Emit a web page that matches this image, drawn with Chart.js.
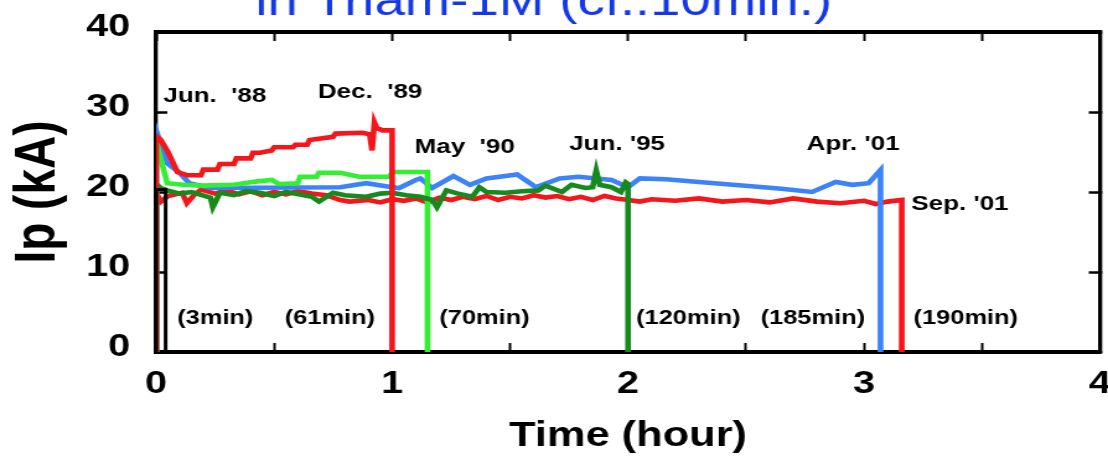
<!DOCTYPE html>
<html>
<head>
<meta charset="utf-8">
<script src="https://cdn.jsdelivr.net/npm/chart.js@4.4.1/dist/chart.umd.min.js"></script>
<style>
  html, body { margin: 0; padding: 0; background: #fff; overflow: hidden; }
  /* the source figure is stretched sideways, so the canvas is drawn narrow and widened by css */
  #ipChart { display: block; width: 1108px; height: 459px; }
</style>
</head>
<body>
<canvas id="ipChart" width="894" height="459" style="width:1108px;height:459px"></canvas>
<script>
// Jun. '88 (3 min)
const jun88Time = [0, 0, 0.04, 0.04];
const jun88Ip = [0, 20.3, 20.3, 0];

// Dec. '89 (61 min)
const dec89Time = [0, 0, 0.02, 0.05, 0.09, 0.13, 0.19, 0.2, 0.26, 0.27, 0.33, 0.34, 0.4, 0.41, 0.44, 0.49, 0.5, 0.58, 0.59, 0.64, 0.65, 0.75, 0.76, 0.875, 0.905, 0.915, 0.925, 0.935, 0.96, 1.0, 1.0];
const dec89Ip = [0, 27, 26.5, 25, 22.5, 22.1, 22.1, 22.8, 22.8, 23.5, 23.5, 24.2, 24.2, 24.9, 24.9, 25.2, 25.6, 25.6, 25.9, 25.9, 26.5, 26.9, 27.3, 27.4, 27.2, 25.2, 28.7, 28.0, 27.7, 27.7, 0];

// May '90 (70 min)
const may90Time = [0, 0, 0.047, 0.115, 0.2, 0.33, 0.42, 0.49, 0.52, 0.6, 0.61, 0.68, 0.69, 0.78, 0.86, 0.87, 0.99, 1.0, 1.05, 1.1, 1.15, 1.15];
const may90Ip = [0, 26.3, 21.1, 20.9, 20.8, 20.9, 21.3, 21.5, 21.0, 21.1, 21.9, 21.9, 22.4, 22.4, 21.9, 21.9, 21.9, 22.5, 22.5, 22.5, 22.5, 0];

// Jun. '95 (120 min)
const jun95Time = [0, 0, 0.02, 0.047, 0.1, 0.15, 0.23, 0.24, 0.27, 0.33, 0.38, 0.44, 0.5, 0.55, 0.61, 0.66, 0.69, 0.75, 0.8, 0.89, 0.95, 1.0, 1.06, 1.12, 1.17, 1.19, 1.23, 1.28, 1.34, 1.37, 1.4, 1.48, 1.55, 1.62, 1.65, 1.72, 1.76, 1.82, 1.85, 1.865, 1.88, 1.93, 1.97, 1.99, 2.0, 2.0];
const jun95Ip = [0, 21, 20.5, 20.2, 19.8, 20.0, 19.3, 18.1, 19.9, 19.6, 20.1, 19.9, 19.5, 20.0, 19.7, 19.4, 18.8, 19.9, 19.6, 19.4, 19.8, 19.9, 19.6, 19.4, 19.0, 18.1, 20.2, 19.8, 19.4, 20.6, 20.0, 19.9, 20.1, 20.2, 20.8, 20.0, 20.9, 20.5, 20.6, 22.7, 20.9, 20.6, 20.0, 21.2, 21.0, 0];

// Apr. '01 (185 min)
const apr01Time = [0, 0, 0.047, 0.1, 0.14, 0.23, 0.78, 0.89, 1.0, 1.03, 1.1, 1.12, 1.17, 1.26, 1.33, 1.4, 1.53, 1.61, 1.71, 1.79, 1.93, 2.0, 2.05, 2.16, 2.3, 2.51, 2.65, 2.78, 2.88, 2.95, 3.02, 3.07, 3.07];
const apr01Ip = [0, 27.7, 23.6, 22.4, 21.1, 20.5, 20.6, 21.1, 20.6, 20.5, 21.5, 21.7, 20.5, 22.0, 20.9, 21.7, 22.2, 20.6, 21.7, 21.9, 21.5, 20.6, 21.7, 21.6, 21.25, 20.75, 20.4, 20.0, 21.25, 20.9, 21.1, 22.75, 0];

// Sep. '01 (190 min)
const sep01Time = [0, 0, 0.02, 0.05, 0.11, 0.13, 0.16, 0.19, 0.25, 0.3, 0.35, 0.4, 0.45, 0.5, 0.55, 0.6, 0.66, 0.72, 0.78, 0.82, 0.9, 0.95, 1.0, 1.05, 1.1, 1.15, 1.2, 1.25, 1.3, 1.35, 1.4, 1.45, 1.5, 1.55, 1.6, 1.65, 1.7, 1.75, 1.8, 1.85, 1.9, 1.95, 2.0, 2.05, 2.1, 2.2, 2.3, 2.4, 2.5, 2.6, 2.7, 2.8, 2.9, 3.0, 3.05, 3.1, 3.16, 3.16];
const sep01Ip = [0, 19.9, 18.8, 19.5, 19.9, 18.6, 19.6, 20.3, 19.8, 20.2, 19.7, 20.1, 19.6, 20.0, 19.7, 20.1, 19.8, 19.6, 19.0, 18.8, 19.0, 18.7, 19.1, 18.9, 19.2, 18.7, 19.3, 19.0, 19.4, 19.1, 19.5, 19.0, 19.4, 19.2, 19.6, 19.3, 19.5, 19.1, 19.4, 19.0, 19.5, 19.2, 19.0, 18.8, 19.1, 18.9, 19.2, 18.8, 19.0, 18.7, 19.2, 18.8, 18.6, 18.9, 18.5, 18.8, 19.0, 0];

const X_TICKS = [0, 1, 2, 3, 4];
const Y_TICKS = [0, 10, 20, 30, 40];

// text labels: [text, hour, kA] (left edge, baseline)
const DATE_LABELS = [
  ["Jun.  '88", 0.03, 31.25],
  ["Dec.  '89", 0.685, 31.75],
  ["May  '90", 1.095, 24.9],
  ["Jun. '95", 1.75, 25.25],
  ["Apr. '01", 2.757, 25.25],
  ["Sep. '01", 3.2, 17.75],
];
const DURATION_LABELS = [
  ["(3min)", 0.089, 3.5],
  ["(61min)", 0.545, 3.5],
  ["(70min)", 1.2, 3.5],
  ["(120min)", 2.034, 3.5],
  ["(185min)", 2.562, 3.5],
  ["(190min)", 3.21, 3.5],
];
const TITLE_TEXT = "in Triam-1M (cf.:10min.)";

const FONT = "'Liberation Sans', Arial, Helvetica, sans-serif";
const COLORS = {
  black: "#000000",
  red: "#f5161b",
  lightGreen: "#33ee33",
  darkGreen: "#168a1e",
  blue: "#3c82fa",
  title: "#1438e6",
};

function pts(xs, ys) {
  return xs.map((x, i) => ({ x, y: ys[i] }));
}

function series(label, xs, ys, color, width) {
  return {
    label,
    data: pts(xs, ys),
    borderColor: color,
    backgroundColor: color,
    borderWidth: width,
    pointRadius: 0,
    tension: 0,
    fill: false,
    borderJoinStyle: "miter",
  };
}

// fixed axis box size; drop the edge padding Chart.js adds for tick labels
function fixBox(size) {
  return (s) => {
    if (s.isHorizontal()) s.height = size; else s.width = size;
    s.paddingTop = 0;
    s.paddingBottom = 0;
    s.paddingLeft = 0;
    s.paddingRight = 0;
  };
}

const textPlugin = {
  id: "plotText",
  afterDatasetsDraw(chart) {
    const { ctx, scales } = chart;
    ctx.save();
    ctx.fillStyle = "#000";
    ctx.textBaseline = "alphabetic";
    ctx.textAlign = "left";
    ctx.font = "bold 21px " + FONT;
    DATE_LABELS.forEach(([t, x, y]) => ctx.fillText(t, scales.x.getPixelForValue(x), scales.y.getPixelForValue(y)));
    ctx.font = "bold 20.5px " + FONT;
    DURATION_LABELS.forEach(([t, x, y]) => ctx.fillText(t, scales.x.getPixelForValue(x), scales.y.getPixelForValue(y)));
    // slide title, cut off by the top edge in the source
    ctx.fillStyle = COLORS.title;
    ctx.font = "44px " + FONT;
    ctx.fillText(TITLE_TEXT, 206, 15);
    ctx.restore();
  },
};

const tickGrid = (w) => ({ drawOnChartArea: false, drawTicks: true, tickLength: -9, tickWidth: w, tickColor: "#000" });
const frame = (w) => ({ display: true, color: "#000", width: w });

new Chart(document.getElementById("ipChart"), {
  type: "line",
  data: {
    datasets: [
      series("Jun. '88", jun88Time, jun88Ip, COLORS.black, 3),
      series("Dec. '89", dec89Time, dec89Ip, COLORS.red, 4.6),
      series("Jun. '95", jun95Time, jun95Ip, COLORS.darkGreen, 4.6),
      series("May '90", may90Time, may90Ip, COLORS.lightGreen, 4.6),
      series("Apr. '01", apr01Time, apr01Ip, COLORS.blue, 4.6),
      series("Sep. '01", sep01Time, sep01Ip, COLORS.red, 4.6),
    ],
  },
  options: {
    responsive: false,
    animation: false,
    layout: { padding: { top: 32, right: 6.5, left: 0, bottom: 0 } },
    plugins: { legend: { display: false }, tooltip: { enabled: false } },
    scales: {
      x: {
        type: "linear",
        position: "bottom",
        min: 0,
        max: 4,
        ticks: {
          stepSize: 0.5,
          autoSkip: false,
          maxRotation: 0,
          padding: 22,
          color: "#000",
          font: { family: FONT, size: 32, weight: "bold" },
          callback: (v) => (X_TICKS.includes(v) ? String(v) : ""),
        },
        grid: tickGrid(2),
        border: frame(4),
        title: { display: true, text: "Time (hour)", color: "#000", font: { family: FONT, size: 35, weight: "bold" }, padding: { top: 0, bottom: 2 } },
        afterFit: fixBox(107),
      },
      x2: {
        type: "linear",
        position: "top",
        min: 0,
        max: 4,
        ticks: { display: false, stepSize: 0.5 },
        grid: tickGrid(2),
        border: frame(4),
        afterFit: fixBox(0),
      },
      y: {
        position: "left",
        min: 0,
        max: 40,
        ticks: {
          stepSize: 10,
          padding: 30,
          labelOffset: -5,
          color: "#000",
          font: { family: FONT, size: 32, weight: "bold" },
          callback: (v) => (Y_TICKS.includes(v) ? String(v) : ""),
        },
        grid: tickGrid(2.5),
        border: frame(3.3),
        title: { display: true, text: "Ip (kA)", color: "#000", font: { family: FONT, size: 46, weight: "bold" }, padding: { top: 4, bottom: 0 } },
        afterFit: fixBox(126),
      },
      y2: {
        position: "right",
        min: 0,
        max: 40,
        ticks: { display: false, stepSize: 10 },
        grid: tickGrid(2.5),
        border: frame(3.3),
        afterFit: fixBox(0),
      },
    },
  },
  plugins: [textPlugin],
});
</script>
</body>
</html>
